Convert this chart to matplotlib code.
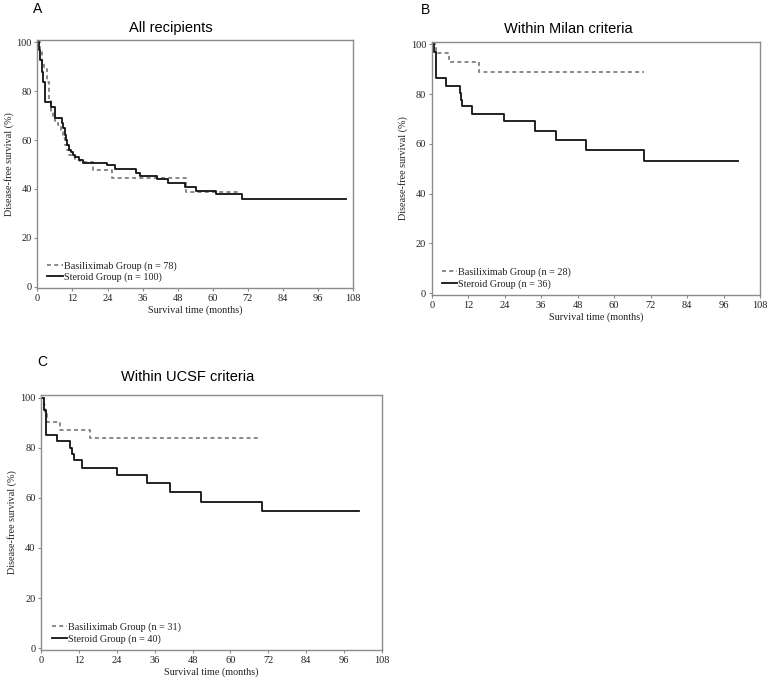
#!/usr/bin/env python3
"""Disease-free survival after liver transplantation: basiliximab vs steroid groups.

Three Kaplan-Meier panels (all recipients, Milan, UCSF).
"""

import matplotlib
matplotlib.use("Agg")
import matplotlib.pyplot as plt

# ---- data (months, % disease-free) ----
A_STEROID_T = [0, 0.5, 1.0, 1.5, 2.0, 2.8, 4.6, 6.0, 8.4, 8.9, 9.3, 9.8, 10.3, 10.8, 11.5,
               12.3, 13.0, 14.3, 15.7, 23.8, 26.7, 33.7, 35.1, 40.8, 44.5, 50.5, 54.3,
               61.0, 69.9, 105.5]
A_STEROID_S = [100, 97, 93, 88, 84, 75.5, 73.5, 69, 67, 65, 62, 60, 58, 56, 55,
               54, 53, 52, 50.8, 49.8, 48.2, 46.5, 45.3, 44, 42.6, 40.9, 39.3,
               37.8, 36, 36]
A_BASIL_T = [0, 0.8, 1.5, 2.3, 3.2, 4.0, 4.6, 5.2, 6.0, 7.0, 8.0, 8.7, 9.4, 10.2, 11.0,
             12.0, 13.0, 14.6, 19.2, 25.5, 50.7, 69.0]
A_BASIL_S = [100, 97, 92, 89, 84, 76, 72, 70, 68, 66, 64, 61, 58, 56, 54,
             53, 52, 51, 47.8, 44.6, 38.9, 38.9]

B_STEROID_T = [0, 0.9, 1.5, 4.8, 9.2, 9.6, 10.0, 13.2, 23.9, 34.0, 40.9, 50.8, 70.0, 100.9]
B_STEROID_S = [100, 97, 86.3, 83.3, 80.5, 77.7, 75, 72, 69, 65.3, 61.6, 57.5, 53.3, 53.3]
B_BASIL_T = [0, 1.4, 5.8, 15.7, 69.7]
B_BASIL_S = [100, 96.4, 92.8, 89, 89]

C_STEROID_T = [0, 1.0, 1.6, 5.0, 9.3, 9.7, 10.3, 13.0, 24.0, 33.7, 40.7, 50.6, 70.0, 100.6]
C_STEROID_S = [100, 95, 85, 82.5, 80, 77.5, 75, 72, 69, 66, 62.5, 58.5, 54.7, 54.7]
C_BASIL_T = [0, 1.0, 1.4, 1.8, 6.0, 15.5, 69.0]
C_BASIL_S = [100, 97, 93.5, 90.3, 87.1, 83.9, 83.9]

PANELS = ["A", "B", "C"]
TITLES = ["All recipients", "Within Milan criteria", "Within UCSF criteria"]
BASIL_LABELS = ["Basiliximab Group (n = 78)", "Basiliximab Group (n = 28)",
                "Basiliximab Group (n = 31)"]
STEROID_LABELS = ["Steroid Group (n = 100)", "Steroid Group (n = 36)",
                  "Steroid Group (n = 40)"]
X_TICKS = list(range(0, 109, 12))
Y_TICKS = list(range(0, 101, 20))

COLOR_STEROID = "#111111"
COLOR_BASIL = "#808080"
COLOR_SPINE = "#8c8c8c"

SERIF = ["Liberation Serif", "DejaVu Serif"]
SANS = ["Liberation Sans", "DejaVu Sans"]

W, H = 772, 689
# axes boxes in pixels: left, top, right, bottom
BOXES = [(37.3, 40, 353.3, 288.3), (431.7, 41.7, 760, 295), (41, 395, 382, 650)]
TITLE_X = [0.423, 0.415, 0.431]
TITLE_PAD = [6, 6.5, 10]
LETTER_POS = [(38, 9), (426, 10.5), (42, 362)]


def draw_panel(ax, i, st_t, st_s, ba_t, ba_s):
    ax.step(ba_t, ba_s, where="post", color=COLOR_BASIL, linewidth=1.3,
            linestyle=(0, (2.2, 1.8)), label=BASIL_LABELS[i])
    ax.step(st_t, st_s, where="post", color=COLOR_STEROID, linewidth=1.3,
            label=STEROID_LABELS[i])
    ax.set_xlim(0, 108)
    ax.set_ylim(-0.7, 101)
    ax.set_xticks(X_TICKS)
    ax.set_yticks(Y_TICKS)
    for sp in ax.spines.values():
        sp.set_color(COLOR_SPINE)
        sp.set_linewidth(1.0)
    ax.tick_params(direction="out", length=2.5, width=0.8, color=COLOR_SPINE,
                   labelsize=7.5, pad=1.5, labelcolor="#222222")
    for lab in ax.get_xticklabels() + ax.get_yticklabels():
        lab.set_family(SERIF)
    ax.set_xlabel("Survival time (months)", family=SERIF, fontsize=7.3,
                  color="#222222", labelpad=2)
    ax.set_ylabel("Disease-free survival (%)", family=SERIF, fontsize=7.3,
                  color="#222222", labelpad=2)
    ax.set_title(TITLES[i], x=TITLE_X[i], family=SANS, fontsize=10.5, pad=TITLE_PAD[i])
    leg = ax.legend(loc="lower left", bbox_to_anchor=(0.013, 0.0), frameon=False,
                    prop={"family": SERIF, "size": 7.3}, handlelength=1.5,
                    handletextpad=0.1, labelspacing=0.2, borderaxespad=0.2)
    for t in leg.get_texts():
        t.set_color("#222222")


def main():
    fig = plt.figure(figsize=(W / 100, H / 100), dpi=100)
    data = [(A_STEROID_T, A_STEROID_S, A_BASIL_T, A_BASIL_S),
            (B_STEROID_T, B_STEROID_S, B_BASIL_T, B_BASIL_S),
            (C_STEROID_T, C_STEROID_S, C_BASIL_T, C_BASIL_S)]
    for i, (l, t, r, b) in enumerate(BOXES):
        ax = fig.add_axes([l / W, 1 - b / H, (r - l) / W, (b - t) / H])
        draw_panel(ax, i, *data[i])
        lx, ly = LETTER_POS[i]
        fig.text(lx / W, 1 - ly / H, PANELS[i], family=SANS, fontsize=10,
                 ha="center", va="center")
    fig.savefig("out.png", dpi=100, facecolor="white")
    plt.close(fig)


if __name__ == "__main__":
    main()
